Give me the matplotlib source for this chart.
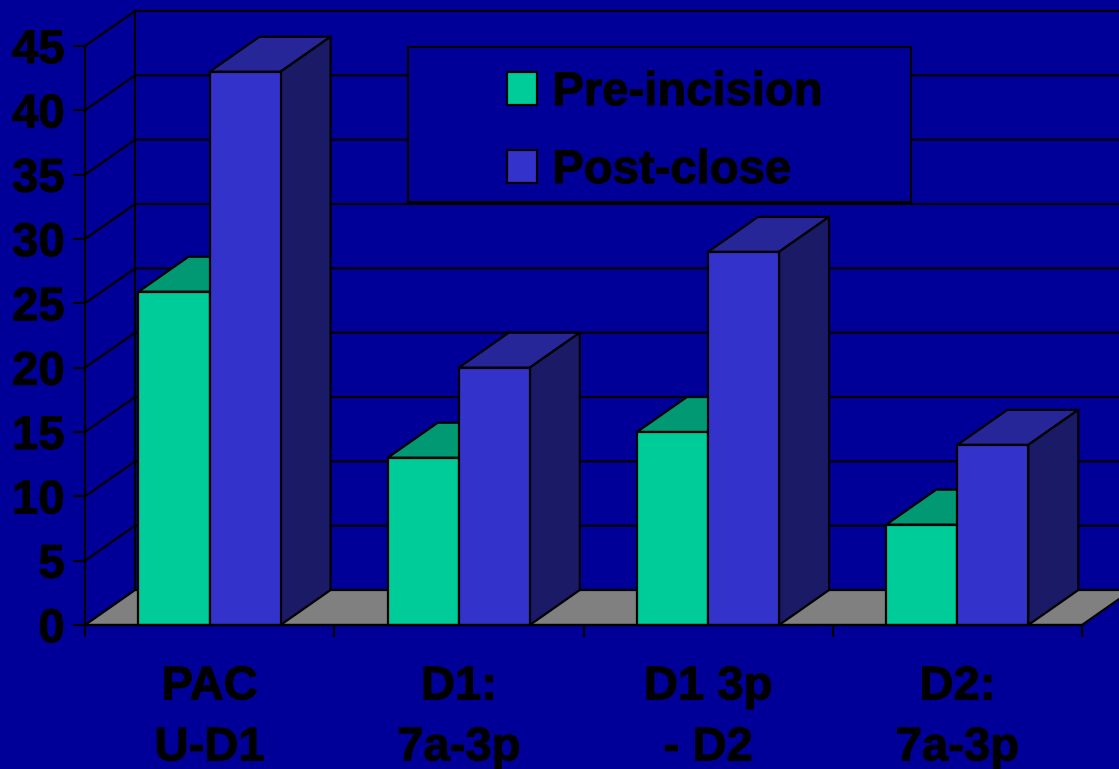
import matplotlib
matplotlib.use("Agg")
import matplotlib.pyplot as plt
import matplotlib.patheffects as pe
from matplotlib.patches import Polygon, Patch, Rectangle

categories = ["PAC\nU-D1", "D1:\n7a-3p", "D1 3p\n- D2", "D2:\n7a-3p"]
pre_incision = [25.9, 13, 15, 7.8]
post_close = [43, 20, 29, 14]
y_ticks = [0, 5, 10, 15, 20, 25, 30, 35, 40, 45]

BG = "#000099"
GREEN, GREEN_TOP = "#00CC99", "#009973"
BLUE, BLUE_TOP, BLUE_SIDE = "#3333CC", "#262699", "#1A1A66"
FLOOR = "#808080"
W, H = 1119, 769
LW = 1.6
FS = 34
HEAVY = [pe.withStroke(linewidth=0.8, foreground="black")]

plt.rcParams["font.family"] = ["Liberation Sans", "DejaVu Sans"]
plt.rcParams["font.weight"] = "bold"

fig = plt.figure(figsize=(W / 100, H / 100), dpi=100, facecolor=BG)
ax = fig.add_axes([85 / W, (H - 625) / H, 997 / W, 579 / H])
ax.patch.set_visible(False)
ax.set_xlim(0, 4)
ax.set_ylim(0, 45)

# depth of the 3-D box, in data units
DX = 50 / (997 / 4)
DY = 35 / (579 / 45)
BAR_W = 0.285
BAR_X = 0.2145


def poly(pts, fc, z):
    ax.add_patch(Polygon(pts, closed=True, facecolor=fc, edgecolor="black",
                         linewidth=LW, joinstyle="round", clip_on=False, zorder=z))


# floor
poly([(0, 0), (DX, DY), (4 + DX, DY), (4, 0)], FLOOR, 1)
# back wall + side wall lines
for v in y_ticks:
    ax.plot([0, DX, 4 + DX], [v, v + DY, v + DY], color="black", lw=LW,
            clip_on=False, zorder=0.5, solid_joinstyle="miter")
ax.plot([DX, DX], [DY, 45 + DY], color="black", lw=LW, clip_on=False, zorder=0.6)

# bars
z = 2
for i, (a, b) in enumerate(zip(pre_incision, post_close)):
    x0 = i + BAR_X
    x1 = x0 + BAR_W
    x2 = x1 + BAR_W
    poly([(x0, a), (x0 + DX, a + DY), (x1 + DX, a + DY), (x1, a)], GREEN_TOP, z)
    ax.bar(x0, a, BAR_W, align="edge", color=GREEN, edgecolor="black",
           linewidth=LW, clip_on=False, zorder=z + 0.1)
    poly([(x1, b), (x1 + DX, b + DY), (x2 + DX, b + DY), (x2, b)], BLUE_TOP, z + 0.2)
    poly([(x2, 0), (x2 + DX, DY), (x2 + DX, b + DY), (x2, b)], BLUE_SIDE, z + 0.2)
    ax.bar(x1, b, BAR_W, align="edge", color=BLUE, edgecolor="black",
           linewidth=LW, clip_on=False, zorder=z + 0.3)
    z += 1

# axes
for s in ("top", "right"):
    ax.spines[s].set_visible(False)
for s in ("left", "bottom"):
    ax.spines[s].set_linewidth(LW)
    ax.spines[s].set_zorder(20)
ax.set_yticks(y_ticks)
ax.set_xticks(range(5))
ax.set_xticklabels([])
ax.set_xticks([i + 0.5 for i in range(4)], categories, minor=True)
ax.tick_params(axis="both", which="major", length=8.6, width=LW, color="black")
ax.tick_params(axis="x", which="minor", length=0, pad=29, labelsize=FS)
ax.tick_params(axis="y", labelsize=FS, pad=6)
for t in ax.get_xticklabels(minor=True):
    t.set_linespacing(1.5)
    t.set_path_effects(HEAVY)
for t in ax.get_yticklabels():
    t.set_path_effects(HEAVY)

# legend
fig.add_artist(Rectangle((408 / W, (H - 202) / H), 503 / W, 155 / H, transform=fig.transFigure,
                         facecolor=BG, edgecolor="black", linewidth=LW, zorder=30))
leg = fig.legend(handles=[Patch(facecolor=GREEN, edgecolor="black", linewidth=LW, label="Pre-incision"),
                          Patch(facecolor=BLUE, edgecolor="black", linewidth=LW, label="Post-close")],
                 loc="center left", bbox_to_anchor=(507 / W, (H - 132) / H), frameon=False,
                 fontsize=FS, borderpad=0, borderaxespad=0, handlelength=0.64, handleheight=0.7,
                 handletextpad=0.32, labelspacing=0.72, labelcolor="black")
leg.set_zorder(31)
for t in leg.get_texts():
    t.set_path_effects(HEAVY)

fig.savefig("out.png", dpi=100, facecolor=BG)
